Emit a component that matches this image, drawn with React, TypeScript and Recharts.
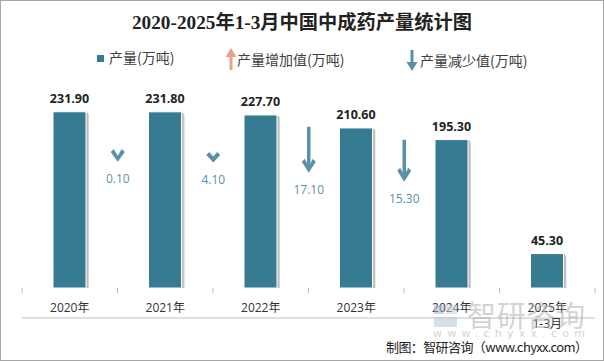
import React from 'react';
import { ComposedChart, Bar, XAxis, YAxis, LabelList } from 'recharts';

const categories = ['2020年', '2021年', '2022年', '2023年', '2024年', '2025年\n1-3月'];
const output = [231.9, 231.8, 227.7, 210.6, 195.3, 45.3];
// change vs. previous year, drawn as an arrow on the left edge of each year
const decrease = [null, 0.1, 4.1, 17.1, 15.3, null];
const arrowFrom = [null, 183, 179, 212, 195, null];
const arrowTo = [null, 166, 165, 151.5, 139.7, null];

const W = 604;
const H = 361;
const X_AXIS_H = 30;
const MARGIN = { top: 98, right: 9, bottom: 43, left: 22 };
const BAND = (W - MARGIN.left - MARGIN.right) / categories.length;
const AXIS_Y = H - MARGIN.bottom - X_AXIS_H;

const BAR_COLOR = '#377b93';
const ARROW_COLOR = '#5b91a8';
const UP_COLOR = '#f0a08a';

const data = categories.map((name, i) => ({
  name,
  output: output[i],
  decrease: decrease[i],
  arrow: arrowFrom[i] == null ? null : [arrowTo[i], arrowFrom[i]],
}));

const fmt = (v: number) => v.toFixed(2);

function BarShape(props: any) {
  const { x, y, width, height } = props;
  if (!height) return null;
  return (
    <g>
      <rect x={x + 2} y={y + 2} width={width + 1} height={height - 2} fill="#d4d4d4" />
      <rect x={x + 1} y={y + 1} width={width + 1} height={height - 1} fill="#bdbdbd" />
      <rect x={x} y={y} width={width} height={height} fill={BAR_COLOR} stroke="#fff" strokeWidth={1} />
    </g>
  );
}

function ArrowShape(props: any) {
  const { x, y, width, height, payload } = props;
  if (!height || payload.decrease == null) return null;
  const cx = x + width / 2 - BAND / 2;
  const tip = y + height;
  const head = Math.min(14, height);
  const hw = 7;
  return (
    <g>
      {height > 14 && (
        <rect x={cx - 1.75} y={y} width={3.5} height={height - 4} fill={ARROW_COLOR} />
      )}
      <polygon
        points={`${cx - hw},${tip - head + 3} ${cx - hw + 3},${tip - head} ${cx},${tip - 6} ${cx + hw - 3},${tip - head} ${cx + hw},${tip - head + 3} ${cx},${tip}`}
        fill={ARROW_COLOR}
      />
      <text
        x={cx}
        y={tip + 21}
        textAnchor="middle"
        fontSize={12}
        fill={ARROW_COLOR}
        fontFamily="'Open Sans', 'Noto Sans', sans-serif"
      >
        {fmt(payload.decrease)}
      </text>
    </g>
  );
}

function Tick(props: any) {
  const { x, payload, index } = props;
  const lines = String(payload.value).split('\n');
  const y = AXIS_Y;
  return (
    <g>
      <line x1={x - BAND / 2} x2={x - BAND / 2} y1={y} y2={y + 5} stroke="#bfbfbf" />
      {index === categories.length - 1 && (
        <line x1={x + BAND / 2} x2={x + BAND / 2} y1={y} y2={y + 5} stroke="#bfbfbf" />
      )}
      {lines.map((l, i) => (
        <text
          key={i}
          x={x}
          y={y + 24 + i * 16}
          textAnchor="middle"
          fontSize={12}
          fill="#333"
          fontFamily="'Open Sans', 'Noto Sans CJK SC', sans-serif"
        >
          {l}
        </text>
      ))}
    </g>
  );
}

function ValueLabel(props: any) {
  const { x, y, width, value } = props;
  return (
    <text
      x={x + width / 2}
      y={y - 9}
      textAnchor="middle"
      fontSize={12.5}
      fontWeight="bold"
      fill="#222"
      fontFamily="'Open Sans', 'Noto Sans', sans-serif"
    >
      {fmt(value)}
    </text>
  );
}

function Overlay() {
  const cjk = "'Noto Sans CJK SC', sans-serif";
  return (
    <svg width={W} height={H} style={{ position: 'absolute', left: 0, top: 0, pointerEvents: 'none' }}>
      <rect x={0.5} y={0.5} width={W - 1} height={H - 1} fill="none" stroke="#a6a6a6" />
      <text
        x={W / 2}
        y={29}
        textAnchor="middle"
        fontSize={19}
        fontWeight="bold"
        fill="#222"
        textLength={340}
        lengthAdjust="spacingAndGlyphs"
        fontFamily="'Liberation Serif', 'Noto Sans CJK SC', serif"
      >
        2020-2025年1-3月中国中成药产量统计图
      </text>
      {/* legend */}
      <rect x={97} y={55} width={7} height={7} fill={BAR_COLOR} />
      <text x={109} y={63} fontSize={14} fill="#404040" fontFamily={cjk}>产量(万吨)</text>
      <rect x={229.5} y={55} width={3} height={15} fill={UP_COLOR} />
      <polygon points="225.5,57 231,48 236.5,57" fill={UP_COLOR} />
      <text x={237} y={65} fontSize={14} fill="#404040" fontFamily={cjk}>产量增加值(万吨)</text>
      <rect x={410.5} y={50} width={3} height={14} fill={ARROW_COLOR} />
      <polygon points="406.5,62 412,71 417.5,62" fill={ARROW_COLOR} />
      <text x={420} y={66} fontSize={14} fill="#404040" fontFamily={cjk}>产量减少值(万吨)</text>
      {/* watermark */}
      <g opacity={0.55}>
        <rect x={434} y={305} width={10} height={9} fill="#9fb3c8" />
        <rect x={446} y={305} width={11} height={9} fill="#c8d2dc" />
        <rect x={434} y={317} width={23} height={10} fill="#b8c6d4" />
        <text x={467} y={327} fontSize={29} fill="#b0b0b0" fontFamily={cjk} textLength={118} lengthAdjust="spacing">
          智研咨询
        </text>
        <text x={433} y={337} fontSize={11} fill="#b0b0b0" fontFamily="'DejaVu Sans', sans-serif" textLength={152} lengthAdjust="spacing">
          www.chyxx.com
        </text>
      </g>
      <text
        x={386}
        y={352}
        fontSize={13}
        fill="#222"
        textLength={202}
        lengthAdjust="spacing"
        fontFamily="'Noto Sans CJK SC', 'DejaVu Sans Mono', sans-serif"
      >
        制图：智研咨询（www.chyxx.com）
      </text>
    </svg>
  );
}

export default function App() {
  return (
    <div style={{ position: 'relative', width: W, height: H, background: '#fff' }}>
      <style>{'body{margin:0}'}</style>
      <ComposedChart width={W} height={H} data={data} margin={MARGIN}>
        <XAxis
          dataKey="name"
          xAxisId="main"
          height={X_AXIS_H}
          axisLine={{ stroke: '#bfbfbf' }}
          tickLine={false}
          interval={0}
          tick={<Tick />}
        />
        <XAxis dataKey="name" xAxisId="arrow" hide />
        <YAxis domain={[0, 250]} hide />
        <Bar dataKey="output" xAxisId="main" barSize={33} shape={<BarShape />} isAnimationActive={false}>
          <LabelList dataKey="output" content={<ValueLabel />} />
        </Bar>
        <Bar dataKey="arrow" xAxisId="arrow" barSize={4} shape={<ArrowShape />} isAnimationActive={false} />
      </ComposedChart>
      <Overlay />
    </div>
  );
}
